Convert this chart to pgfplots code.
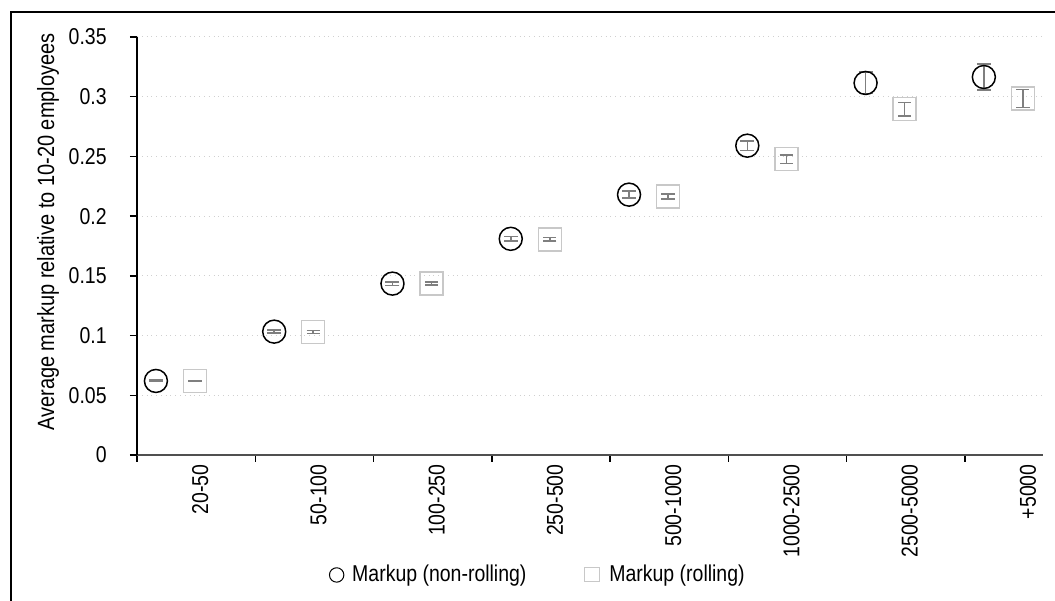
\documentclass[border=0pt]{standalone}
\usepackage{fontspec}
\setmainfont{Liberation Sans}[FakeStretch=0.85]
\usepackage{pgfplots}
\usepackage{pgfplotstable}
\pgfplotsset{compat=1.18}
\definecolor{errgray}{HTML}{7F7F7F}
\definecolor{sqgray}{HTML}{C8C8C8}
\definecolor{gridgray}{HTML}{D0D0D0}
\definecolor{axisgray}{HTML}{505050}

\pgfplotstableread{
x y e
0.16 0.062 0.0006
1.16 0.1033 0.0012
2.16 0.1435 0.0015
3.16 0.181 0.002
4.16 0.218 0.003
5.16 0.259 0.004
6.16 0.3115 0.009
7.16 0.3165 0.011
}\nonrolling
\pgfplotstableread{
x y e
0.49 0.062 0.0005
1.49 0.103 0.0013
2.49 0.1435 0.0012
3.49 0.1805 0.0015
4.49 0.2165 0.002
5.49 0.2477 0.0035
6.49 0.2895 0.0055
7.49 0.2985 0.0075
}\rolling

\begin{document}
\begin{tikzpicture}[font=\fontsize{11.5}{13}\selectfont]
\useasboundingbox (0,0) rectangle (527.5bp,300.5bp);
\draw[line width=0.75bp, black] (5.5bp,0) -- (5.5bp,294.5bp) -- (527.5bp,294.5bp);
\node[rotate=90] at (24bp,184.5bp) {\fontsize{11.8}{13}\selectfont Average markup relative to 10-20 employees};
\begin{axis}[
  at={(68.5bp,73bp)}, anchor=south west,
  width=453bp, height=209bp, scale only axis,
  xmin=0, xmax=7.66, ymin=0, ymax=0.35,
  clip=false,
  axis x line*=bottom, axis y line*=left,
  x axis line style={axisgray, line width=1.1bp, -},
  y axis line style={black, line width=0.75bp, -},
  /pgf/number format/assume math mode=true,
  tick align=outside,
  major tick length=3.5bp,
  tick style={black, line width=0.75bp},
  ytick={0,0.05,0.1,0.15,0.2,0.25,0.3,0.35},
  yticklabels={0,0.05,0.1,0.15,0.2,0.25,0.3,0.35},
  yticklabel style={anchor=east, inner sep=0pt, xshift=-11.5bp},
  ymajorgrids,
  grid style={gridgray, dotted, line width=0.5bp},
  xtick={0,1,...,7},
  xticklabels={},
  extra x ticks={0.5,1.5,2.5,3.5,4.5,5.5,6.5,7.5},
  extra x tick labels={20-50,50-100,100-250,250-500,500-1000,1000-2500,2500-5000,+5000},
  extra x tick style={major tick length=0pt, grid=none,
    tick label style={yshift=-4.5bp, xshift=2bp, rotate=90, anchor=east, inner sep=0pt}},
  legend columns=2,
  legend style={draw=none, at={(0.4435,-0.287)}, anchor=center,
    /tikz/every even column/.append style={column sep=27bp}},
]
\addplot[only marks, mark=o, mark size=5.75bp,
  mark options={black, line width=0.75bp},
  legend image code/.code={\draw[black, line width=0.5bp] (0bp,0bp) circle (3.6bp); \path (5.6bp,0bp);},
  error bars/.cd, y dir=both, y explicit,
  error bar style={errgray, line width=0.75bp},
  error mark options={rotate=90, errgray, mark size=3.5bp, line width=0.75bp}]
  table[x=x, y=y, y error=e]{\nonrolling};
\addlegendentry{Markup (non-rolling)}
\addplot[only marks, mark=square, mark size=5.75bp,
  mark options={sqgray, line width=0.75bp},
  legend image code/.code={\draw[sqgray, line width=0.5bp] (-3.5bp,-3.5bp) rectangle (3.5bp,3.5bp); \path (6.5bp,0bp);},
  error bars/.cd, y dir=both, y explicit,
  error bar style={errgray, line width=0.75bp},
  error mark options={rotate=90, errgray, mark size=3.3bp, line width=0.75bp}]
  table[x=x, y=y, y error=e]{\rolling};
\addlegendentry{Markup (rolling)}
\end{axis}
\end{tikzpicture}
\end{document}
